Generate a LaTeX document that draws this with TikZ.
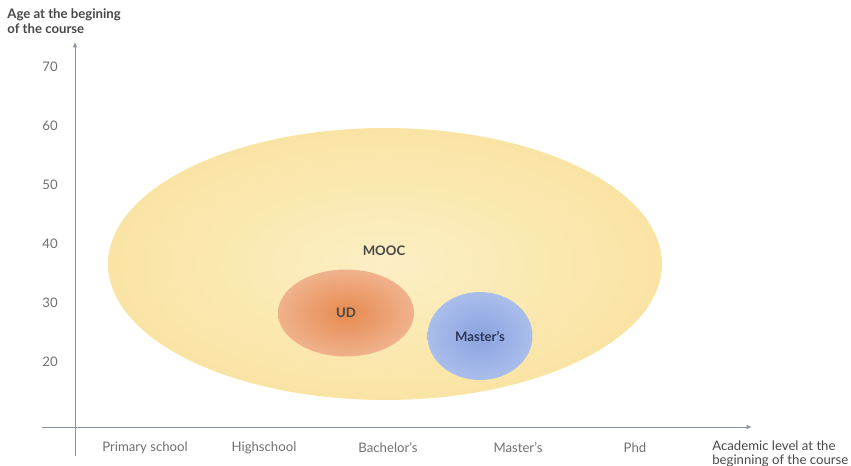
\documentclass[tikz,border=0pt]{standalone}
\usepackage{fontspec}
\setmainfont{Lato}
\usepackage{tikz}
\usetikzlibrary{
	arrows.meta,
	shapes.geometric,
	positioning
}
\definecolor{AxisGray}{RGB}{138,146,164}
\definecolor{TickGray}{RGB}{112,112,112}
\definecolor{TitleGray}{RGB}{72,72,72}
\definecolor{MoocIn}{RGB}{252,239,196}
\definecolor{MoocOut}{RGB}{250,228,164}
\definecolor{UdIn}{RGB}{230,138,80}
\definecolor{UdOut}{RGB}{240,178,140}
\definecolor{MsIn}{RGB}{138,162,222}
\definecolor{MsOut}{RGB}{170,190,236}
\definecolor{MsText}{RGB}{44,56,90}

\begin{document}
\begin{tikzpicture}[x=0.02cm, y=-0.02cm,
		axis/.style={draw=AxisGray, line width=0.5pt, -{Latex[length=3pt, width=2.5pt]}},
		tick/.style={text=TickGray, font=\fontsize{7.5}{9}\selectfont},
		title/.style={text=TitleGray, align=left, font=\fontsize{7.5}{8.5}\selectfont},
		blob/.style={ellipse, shading=radial, font=\bfseries\fontsize{7.5}{9}\selectfont, text=TitleGray}]
		\useasboundingbox (0,0) rectangle (851,466);
		
		\coordinate (O) at (75,427);
		\coordinate (ybot) at (75,456);
		\coordinate (ytop) at (75,42);
		\coordinate (xleft) at (42,427);
		\coordinate (xright) at (752,427);
		
		% sets
		\node[blob, minimum width=11.08cm, minimum height=5.44cm, inner color=MoocIn, outer color=MoocOut] (mooc) at (385,264) {};
		\node[blob, minimum width=2.72cm, minimum height=1.74cm, inner color=UdIn, outer color=UdOut] (ud) at (346,313) {UD};
		\node[blob, minimum width=2.1cm, minimum height=1.76cm, inner color=MsIn, outer color=MsOut, text=MsText] (ms) at (480,336) {Master’s};
		\node[font=\bfseries\fontsize{7.5}{9}\selectfont, text=TitleGray] (moocl) at (384,251) {MOOC};
		
		% axes
		\draw[axis] (ybot) -- (ytop);
		\draw[axis] (xleft) -- (xright);
		
		\foreach \v in {20,30,...,70}
			\node[tick] (t\v) at (50,{67+(70-\v)*5.9}) {\v};
		
		\foreach \lab/\x [count=\i] in {Primary school/145, Highschool/264, Bachelor’s/388, Master’s/518, Phd/635}
			\node[tick] (lev\i) at (\x,448) {\lab};
		
		\node[title, font=\bfseries\fontsize{7.5}{8.5}\selectfont, anchor=north west, inner sep=0pt] (ytitle) at (7,8) {Age at the begining\\of the course};
		\node[title, anchor=north west, inner sep=0pt] (xtitle) at (712,440) {Academic level at the\\beginning of the course};
	\end{tikzpicture}
\end{document}
